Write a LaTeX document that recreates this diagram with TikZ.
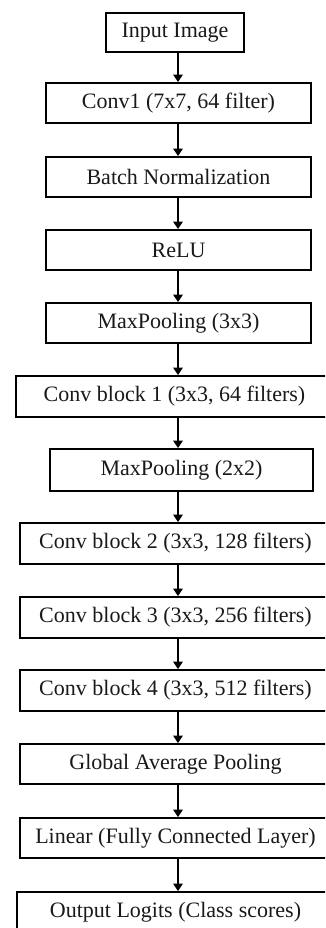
\documentclass[tikz,border=0pt]{standalone}
\usepackage{fontspec}
\setmainfont{Liberation Serif}
\usetikzlibrary{arrows.meta}
\begin{document}
\begin{tikzpicture}[x=1pt,y=-1pt,
  box/.style={draw=black, line width=1.9pt, fill=white, inner sep=0pt,
    font=\fontsize{22}{24}\selectfont, text=black!90},
  conn/.style={line width=1.6pt, -{Triangle[length=7.5pt,width=9.5pt]}}]
\useasboundingbox (0,0) rectangle (325,928);
\clip (0,0) rectangle (325,928);
\fill[white] (0,0) rectangle (325,928);
\node[box, minimum width=138pt, minimum height=39pt] (n1) at (175,32.5) {Input Image};
\node[box, minimum width=265pt, minimum height=40pt] (n2) at (178.5,103) {Conv1 (7x7, 64 filter)};
\node[box, minimum width=265pt, minimum height=40pt] (n3) at (178.5,177) {Batch Normalization};
\node[box, minimum width=265pt, minimum height=40pt] (n4) at (178.5,250) {ReLU};
\node[box, minimum width=265pt, minimum height=40pt] (n5) at (178.5,323) {MaxPooling (3x3)};
\node[box, minimum width=325pt, minimum height=41pt] (n6) at (178.5,396.5) {\hspace*{-8pt}Conv block 1 (3x3, 64 filters)};
\node[box, minimum width=263pt, minimum height=42pt] (n7) at (181.5,470) {MaxPooling (2x2)};
\node[box, minimum width=317pt, minimum height=41pt] (n8) at (178.5,543.5) {\hspace*{-6pt}Conv block 2 (3x3, 128 filters)};
\node[box, minimum width=317pt, minimum height=41pt] (n9) at (178.5,617.5) {\hspace*{-6pt}Conv block 3 (3x3, 256 filters)};
\node[box, minimum width=317pt, minimum height=41pt] (n10) at (178.5,690.5) {\hspace*{-6pt}Conv block 4 (3x3, 512 filters)};
\node[box, minimum width=317pt, minimum height=40pt] (n11) at (178.5,764) {\hspace*{-6pt}Global Average Pooling};
\node[box, minimum width=317pt, minimum height=40pt] (n12) at (178.5,838) {\hspace*{-6pt}Linear (Fully Connected Layer)};
\node[box, minimum width=323pt, minimum height=40pt] (n13) at (178.5,912) {\hspace*{-6pt}Output Logits (Class scores)};
\foreach \a/\b in {n1/n2,n2/n3,n3/n4,n4/n5,n5/n6,n6/n7,n7/n8,n8/n9,n9/n10,n10/n11,n11/n12,n12/n13}
  \draw[conn] (\a.south -| 178,0) -- (\b.north -| 178,0);
\end{tikzpicture}
\end{document}
